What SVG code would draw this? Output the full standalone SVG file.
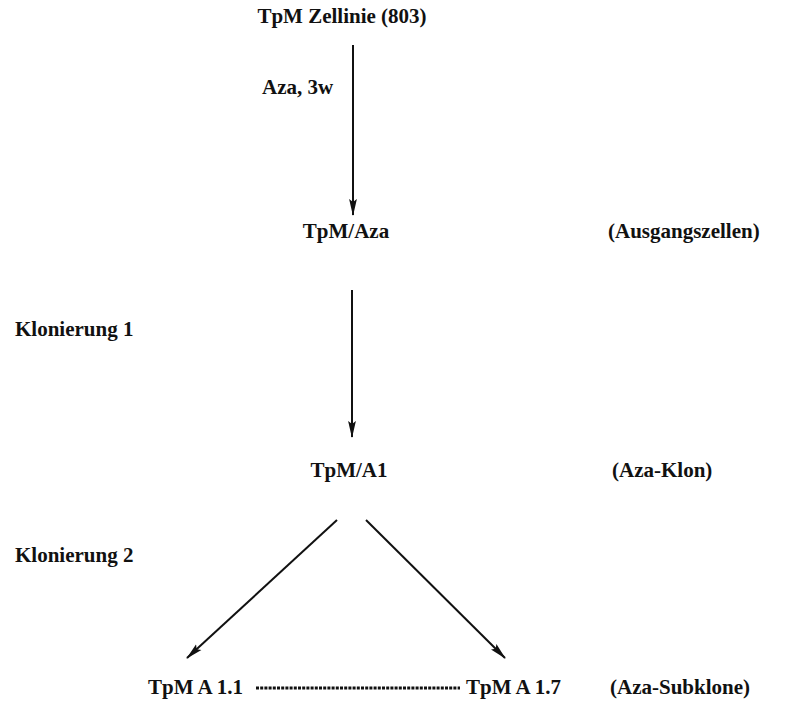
<svg xmlns="http://www.w3.org/2000/svg" width="792" height="703" viewBox="0 0 792 703">
<defs>
<style>
text{font-family:"Liberation Serif","Times New Roman",serif;font-weight:bold;font-size:21px;fill:#111}
.c{text-anchor:middle}
.ln{stroke:#111;stroke-width:2;fill:none}
.dash{stroke:#111;stroke-width:3;stroke-dasharray:3 1.2;fill:none}
</style>
<marker id="ah" viewBox="0 0 17 9" refX="16" refY="4.5" markerWidth="17" markerHeight="9" markerUnits="userSpaceOnUse" orient="auto">
<path d="M0,0.6 L17,4.5 L0,8.4 L3,4.5 Z" fill="#111"/>
</marker>
</defs>
<rect width="792" height="703" fill="#fff"/>
<g id="connectors">
<line class="ln" x1="353" y1="45" x2="353" y2="215" marker-end="url(#ah)"/>
<line class="ln" x1="352" y1="290" x2="352" y2="437" marker-end="url(#ah)"/>
<line class="ln" x1="337" y1="520" x2="187" y2="658" marker-end="url(#ah)"/>
<line class="ln" x1="366" y1="520" x2="505" y2="658" marker-end="url(#ah)"/>
<line class="dash" x1="256" y1="688" x2="460" y2="688"/>
</g>
<g id="n-zelllinie"><text class="c" x="342" y="23">TpM Zellinie (803)</text></g>
<g id="l-aza3w"><text x="262" y="94">Aza, 3w</text></g>
<g id="n-tpmaza"><text class="c" x="346" y="238">TpM/Aza</text></g>
<g id="l-ausgang"><text x="608" y="238">(Ausgangszellen)</text></g>
<g id="l-klon1"><text x="15" y="336">Klonierung 1</text></g>
<g id="n-tpma1"><text class="c" x="349" y="477">TpM/A1</text></g>
<g id="l-azaklon"><text x="612" y="477">(Aza-Klon)</text></g>
<g id="l-klon2"><text x="15" y="562">Klonierung 2</text></g>
<g id="n-a11"><text x="148" y="694">TpM A 1.1</text></g>
<g id="n-a17"><text x="466" y="694">TpM A 1.7</text></g>
<g id="l-subklone"><text x="610" y="694">(Aza-Subklone)</text></g>
</svg>
